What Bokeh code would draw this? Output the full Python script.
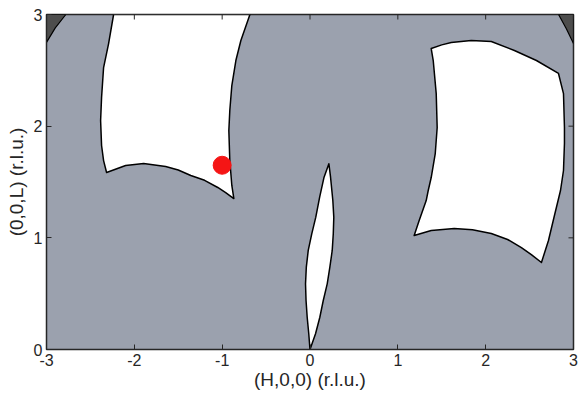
import math
from bokeh.plotting import figure
from bokeh.models import Range1d, FixedTicker
from bokeh.embed import file_html
from bokeh.resources import INLINE

# ---- data (H, L in r.l.u.) ----
region_a_h = [-2.236, -0.684, -0.787, -0.844, -0.890, -0.913, -0.924, -0.913, -0.890, -0.867,
              -0.960, -1.050, -1.200, -1.357, -1.500, -1.643, -1.894, -2.099, -2.316,
              -2.350, -2.373, -2.384, -2.373, -2.350, -2.293]
region_a_l = [3.000, 3.000, 2.767, 2.588, 2.364, 2.140, 1.961, 1.692, 1.469, 1.352,
              1.405, 1.451, 1.515, 1.558, 1.608, 1.639, 1.666, 1.648, 1.585,
              1.692, 1.827, 2.051, 2.257, 2.525, 2.740]

region_b_h = [1.380, 1.500, 1.608, 1.836, 2.064, 2.327, 2.578, 2.829,
              2.886, 2.897, 2.897, 2.886, 2.852, 2.783, 2.715, 2.635,
              2.520, 2.407, 2.250, 2.064, 1.850, 1.642, 1.380, 1.186,
              1.243, 1.323, 1.346, 1.380, 1.426, 1.448, 1.437, 1.403]
region_b_l = [2.695, 2.728, 2.749, 2.767, 2.758, 2.678, 2.588, 2.472,
              2.292, 1.988, 1.845, 1.603, 1.424, 1.200, 0.976, 0.779,
              0.850, 0.913, 0.985, 1.039, 1.072, 1.084, 1.066, 1.021,
              1.155, 1.334, 1.424, 1.540, 1.755, 1.988, 2.292, 2.588]

region_c_h = [0.000, 0.063, 0.112, 0.151, 0.196, 0.226, 0.253, 0.265, 0.271, 0.260, 0.234, 0.215,
              0.160, 0.110, 0.066, 0.020, -0.020, -0.042, -0.051, -0.045, -0.032, -0.014]
region_c_l = [0.000, 0.141, 0.289, 0.439, 0.588, 0.737, 0.887, 1.036, 1.185, 1.334, 1.543, 1.663,
              1.543, 1.364, 1.185, 1.036, 0.887, 0.737, 0.588, 0.439, 0.289, 0.141]

corner_left_h = [-3.0, -2.78, -2.90, -3.0]
corner_left_l = [3.0, 3.0, 2.88, 2.75]
corner_right_h = [3.0, 2.83, 2.92, 3.0]
corner_right_l = [3.0, 3.0, 2.87, 2.74]

marker_h = [-1.0]
marker_l = [1.65]

x_ticks = [-3, -2, -1, 0, 1, 2, 3]
y_ticks = [0, 1, 2, 3]
x_tick_labels = ["-3", "-2", "-1", "0", "1", "2", "3"]
y_tick_labels = ["0", "1", "2", "3"]

FONT = "Liberation Sans"
INK = "#262626"

p = figure(width=582, height=395, output_backend="svg", toolbar_location=None,
           x_range=Range1d(-3, 3), y_range=Range1d(0, 3),
           min_border_left=46, min_border_right=9, min_border_top=14, min_border_bottom=46)
p.background_fill_color = "#9ba1ae"
p.border_fill_color = "white"
p.outline_line_color = INK
p.outline_line_width = 1.5
p.grid.visible = False

p.patches(xs=[region_a_h, region_b_h, region_c_h], ys=[region_a_l, region_b_l, region_c_l],
          fill_color="white", line_color="black", line_width=1.5, line_join="round")
p.patches(xs=[corner_left_h, corner_right_h], ys=[corner_left_l, corner_right_l],
          fill_color="#4d4d4d", line_color="black", line_width=1.2)
p.scatter(x=marker_h, y=marker_l, size=18, fill_color="#f51515", line_color="#f51515")

# inward ticks on the top and right edges of the box
p.scatter(x=x_ticks, y=[y_ticks[-1]] * len(x_ticks), marker="dash", size=10,
          angle=math.pi / 2, line_color=INK, line_width=1)
p.scatter(x=[x_ticks[-1]] * len(y_ticks), y=y_ticks, marker="dash", size=10,
          line_color=INK, line_width=1)

for ax, ticks, labels in ((p.xaxis[0], x_ticks, x_tick_labels), (p.yaxis[0], y_ticks, y_tick_labels)):
    ax.ticker = FixedTicker(ticks=ticks)
    ax.major_label_overrides = {t: s for t, s in zip(ticks, labels)}
    ax.major_tick_in = 5
    ax.major_tick_out = 0
    ax.minor_tick_line_color = None
    ax.axis_line_color = INK
    ax.major_tick_line_color = INK
    ax.major_label_text_font = FONT
    ax.major_label_text_font_size = "16px"
    ax.major_label_text_color = INK
    ax.axis_label_text_font = FONT
    ax.axis_label_text_font_size = "19px"
    ax.axis_label_text_font_style = "normal"
    ax.axis_label_text_color = INK

p.xaxis[0].axis_label = "(H,0,0) (r.l.u.)"
p.yaxis[0].axis_label = "(0,0,L) (r.l.u.)"
p.xaxis[0].major_label_standoff = 4
p.xaxis[0].axis_label_standoff = 0
p.yaxis[0].major_label_standoff = 4
p.yaxis[0].axis_label_standoff = 4

open("out.html", "w").write(file_html(p, INLINE))
